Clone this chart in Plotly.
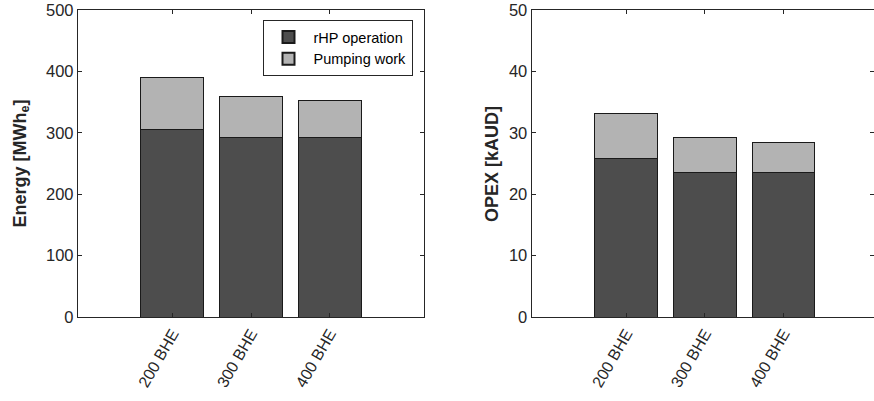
import plotly.graph_objects as go

categories = ["200 BHE", "300 BHE", "400 BHE"]
x_pos = [1, 2, 3]

energy_rhp = [306, 292, 292]
energy_pump = [84, 67, 60]

opex_rhp = [25.8, 23.6, 23.5]
opex_pump = [7.3, 5.7, 5.0]

series_names = ["rHP operation", "Pumping work"]
energy_ticks = [0, 100, 200, 300, 400, 500]
opex_ticks = [0, 10, 20, 30, 40, 50]

DARK = "#4d4d4d"
LIGHT = "#b3b3b3"
EDGE = "#1a1a1a"
AX = "#262626"
FONT = "Liberation Sans, Arial, Helvetica, sans-serif"

fig = go.Figure()

fig.add_trace(go.Bar(x=x_pos, y=energy_rhp, name=series_names[0], marker=dict(color=DARK, line=dict(color=EDGE, width=1)),
                     width=0.8, xaxis="x", yaxis="y", legendgroup="a"))
fig.add_trace(go.Bar(x=x_pos, y=energy_pump, name=series_names[1], marker=dict(color=LIGHT, line=dict(color=EDGE, width=1)),
                     width=0.8, xaxis="x", yaxis="y", legendgroup="b"))
fig.add_trace(go.Bar(x=x_pos, y=opex_rhp, name=series_names[0], marker=dict(color=DARK, line=dict(color=EDGE, width=1)),
                     width=0.8, xaxis="x2", yaxis="y2", showlegend=False, legendgroup="a"))
fig.add_trace(go.Bar(x=x_pos, y=opex_pump, name=series_names[1], marker=dict(color=LIGHT, line=dict(color=EDGE, width=1)),
                     width=0.8, xaxis="x2", yaxis="y2", showlegend=False, legendgroup="b"))

W, H = 874, 401
ydom = [1 - 317 / H, 1 - 10 / H]

common_x = dict(tickvals=x_pos, ticktext=categories, tickangle=-60, ticks="inside", ticklen=4,
                tickcolor=AX, showline=True, linecolor=AX, linewidth=1.3, showgrid=False, zeroline=False,
                tickfont=dict(family=FONT, size=16, color=AX), fixedrange=True)
common_y = dict(ticks="inside", ticklen=4, tickcolor=AX, showline=True, linecolor=AX, linewidth=1.3,
                showgrid=False, zeroline=False, tickfont=dict(family=FONT, size=16.5, color=AX), domain=ydom,
                fixedrange=True)

fig.update_layout(
    width=W, height=H,
    margin=dict(l=0, r=0, t=0, b=0, autoexpand=False),
    paper_bgcolor="white", plot_bgcolor="white",
    barmode="stack", bargap=0.2,
    font=dict(family=FONT, color=AX),
    xaxis=dict(common_x, domain=[78 / W, 424 / W], range=[-0.2, 4.2], mirror="allticks", anchor="y"),
    yaxis=dict(common_y, range=[0, 500], tickvals=energy_ticks, mirror="allticks", anchor="x"),
    xaxis2=dict(common_x, domain=[531.7 / W, 1.0], range=[-0.2, 4.15], mirror="allticks", anchor="y2"),
    yaxis2=dict(common_y, range=[0, 50], tickvals=opex_ticks, mirror="ticks", anchor="x2"),
    legend=dict(x=412.5 / W, y=1 - 20 / H, xanchor="right", yanchor="top", bgcolor="white",
                bordercolor=AX, borderwidth=1, font=dict(family=FONT, size=14.5, color="black"),
                tracegroupgap=0, itemsizing="constant", itemwidth=40),
    showlegend=True,
    annotations=[
        dict(text="<b>Energy [MWh<sub>e</sub>]</b>", x=21 / W, y=1 - 163.5 / H, xref="paper", yref="paper",
             textangle=-90, showarrow=False, font=dict(family=FONT, size=18, color=AX), xanchor="center", yanchor="middle"),
        dict(text="<b>OPEX [kAUD]</b>", x=492 / W, y=1 - 164 / H, xref="paper", yref="paper",
             textangle=-90, showarrow=False, font=dict(family=FONT, size=18, color=AX), xanchor="center", yanchor="middle"),
    ],
)

fig.write_html("out.html", config={"displayModeBar": False},
               post_script="document.body.style.margin='0';document.body.style.overflow='hidden';")
